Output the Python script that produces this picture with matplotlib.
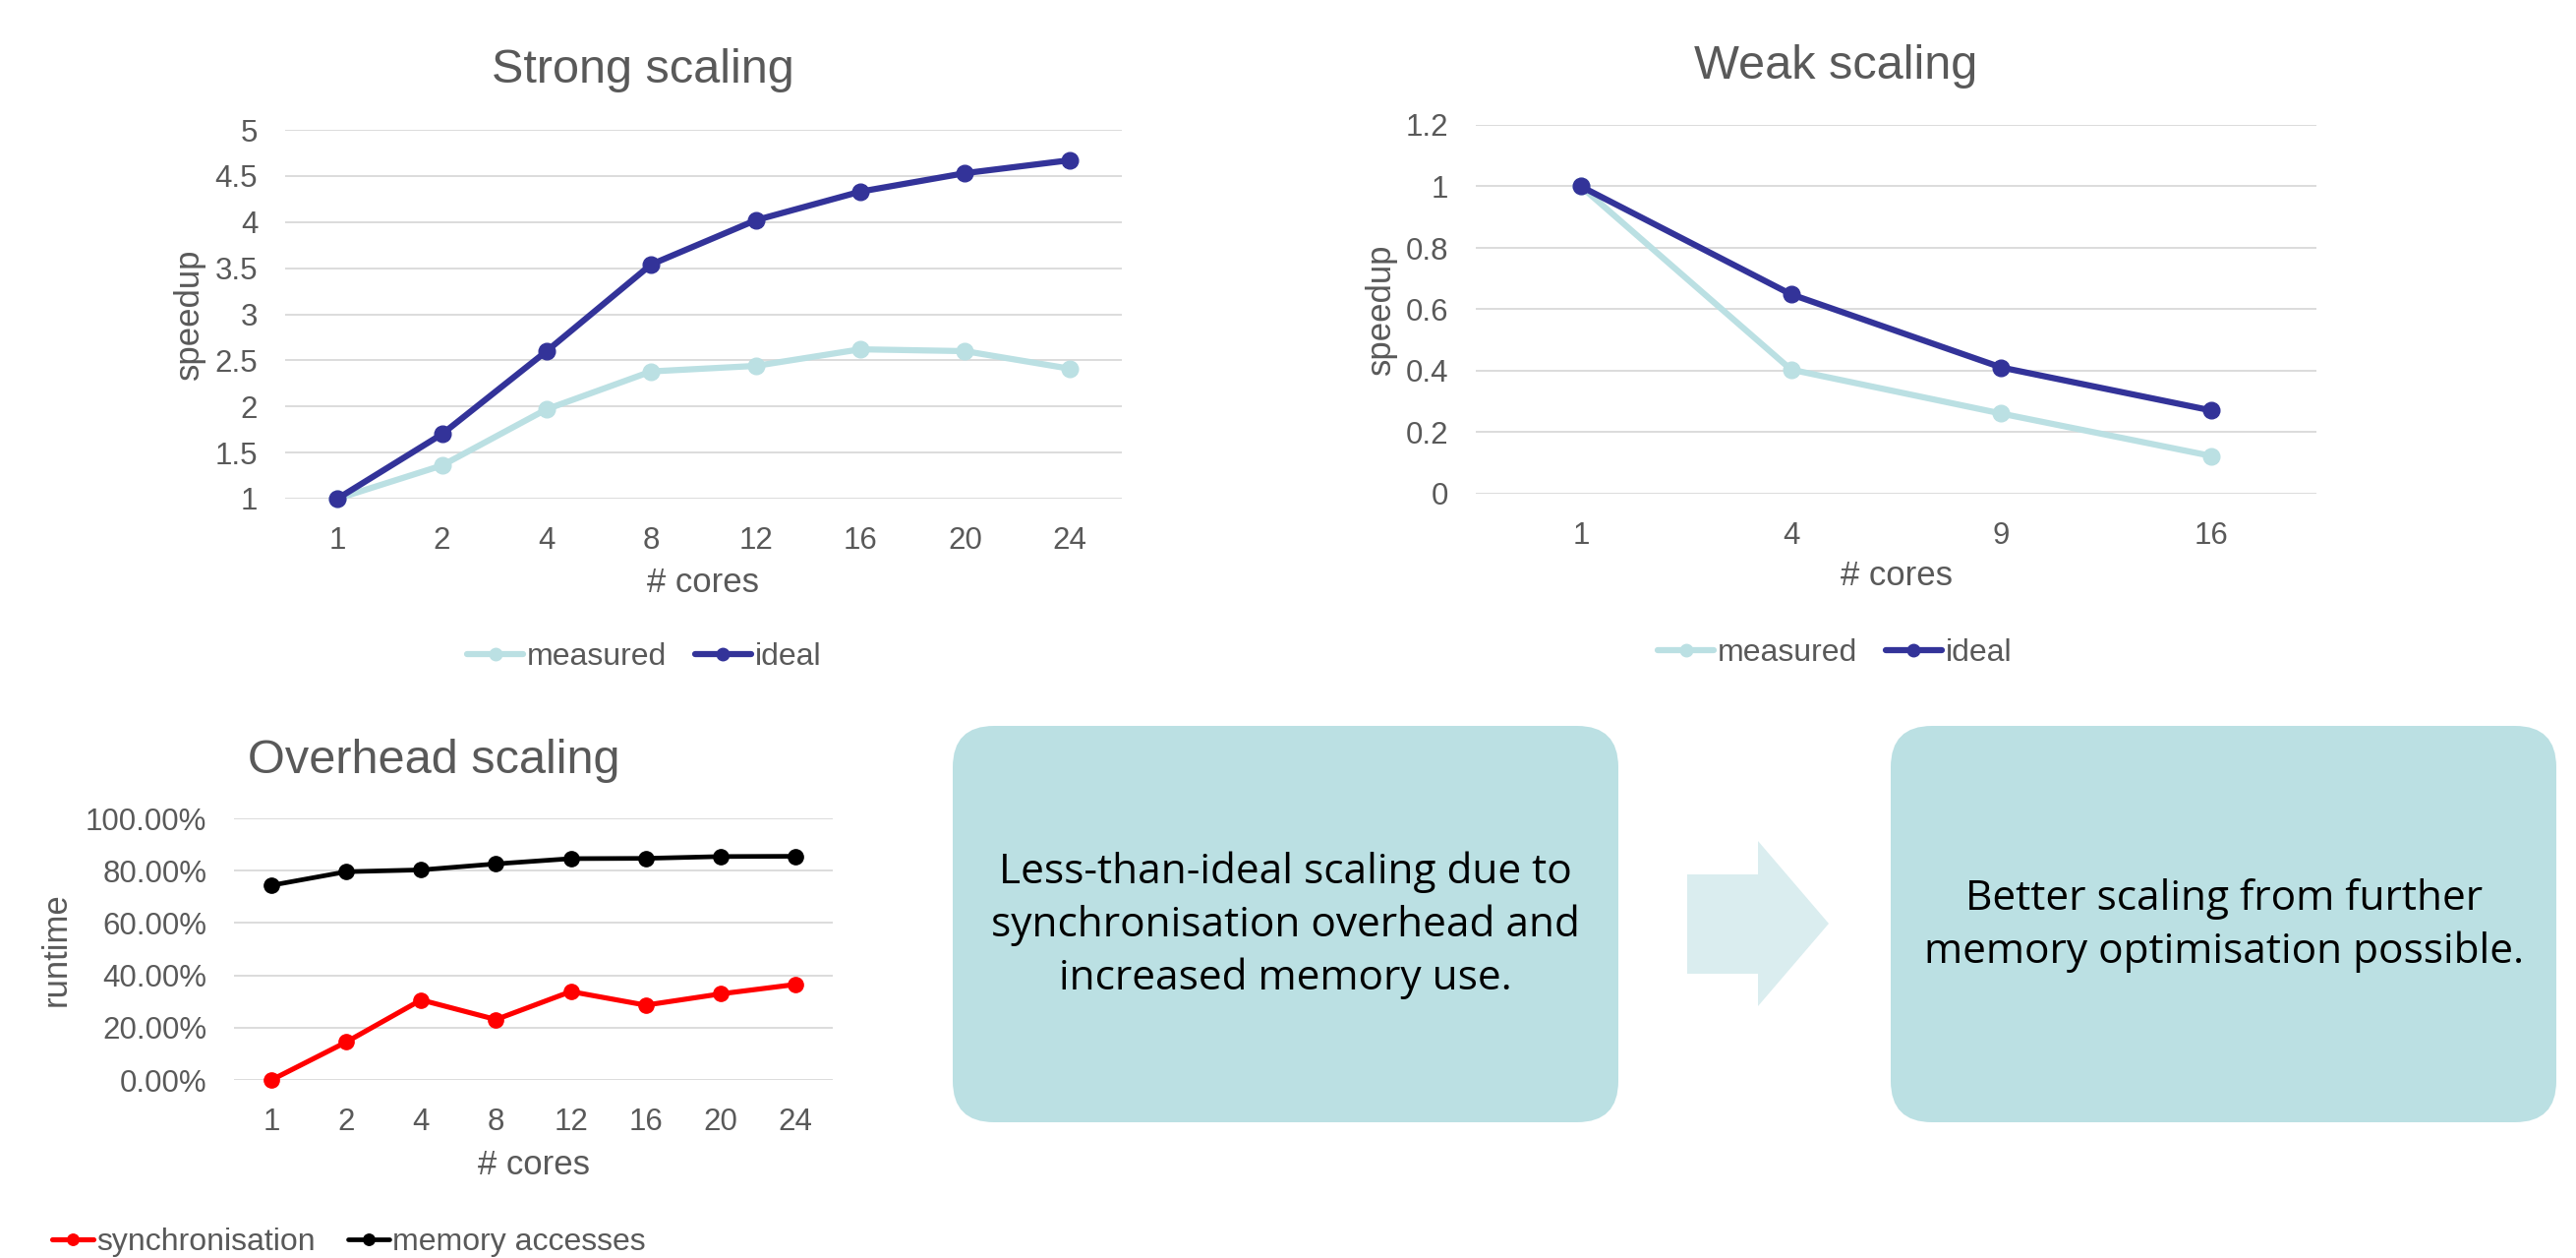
import matplotlib
matplotlib.use("Agg")
import matplotlib.pyplot as plt
from matplotlib.patches import FancyBboxPatch, Polygon

# ---- data ----
strong_cores = ["1", "2", "4", "8", "12", "16", "20", "24"]
strong_measured = [1.00, 1.36, 1.97, 2.38, 2.44, 2.62, 2.60, 2.41]
strong_ideal = [1.00, 1.70, 2.60, 3.54, 4.02, 4.33, 4.53, 4.67]

weak_cores = ["1", "4", "9", "16"]
weak_measured = [1.00, 0.404, 0.261, 0.123]
weak_ideal = [1.00, 0.649, 0.411, 0.271]

overhead_cores = ["1", "2", "4", "8", "12", "16", "20", "24"]
overhead_sync = [0.000, 0.145, 0.306, 0.231, 0.338, 0.286, 0.329, 0.365]
overhead_mem = [0.744, 0.796, 0.803, 0.826, 0.846, 0.847, 0.854, 0.855]

strong_yticks = [1, 1.5, 2, 2.5, 3, 3.5, 4, 4.5, 5]
strong_yticklabels = ["1", "1.5", "2", "2.5", "3", "3.5", "4", "4.5", "5"]
weak_yticks = [0, 0.2, 0.4, 0.6, 0.8, 1.0, 1.2]
weak_yticklabels = ["0", "0.2", "0.4", "0.6", "0.8", "1", "1.2"]
overhead_yticks = [0, 0.2, 0.4, 0.6, 0.8, 1.0]
overhead_yticklabels = ["0.00%", "20.00%", "40.00%", "60.00%", "80.00%", "100.00%"]

box_left_text = "Less-than-ideal scaling due to\nsynchronisation overhead and\nincreased memory use."
box_right_text = "Better scaling from further\nmemory optimisation possible."

# ---- style ----
W, H = 2620, 1279
DPI = 100
TEXT = "#595959"
GRID = "#D9D9D9"
LIGHT = "#BBE0E3"
DARK = "#333399"
ARROW = "#DAEDEF"
plt.rcParams["font.family"] = ["Liberation Sans", "DejaVu Sans"]

fig = plt.figure(figsize=(W / DPI, H / DPI), dpi=DPI)


def px_axes(x0, y0, x1, y1):
    """Axes from pixel box (origin top-left)."""
    return fig.add_axes([x0 / W, 1 - y1 / H, (x1 - x0) / W, (y1 - y0) / H])


def fxy(x, y):
    return x / W, 1 - y / H


def style_axes(ax, n, ticks, ticklabels, ylim, cats):
    ax.set_xlim(-0.5, n - 0.5)
    ax.set_ylim(*ylim)
    ax.set_yticks(ticks)
    ax.set_yticklabels(ticklabels)
    ax.set_xticks(range(n))
    ax.set_xticklabels(cats)
    for s in ax.spines.values():
        s.set_visible(False)
    ax.grid(axis="y", color=GRID, linewidth=1.3)
    ax.set_axisbelow(True)
    ax.tick_params(axis="both", length=0, labelsize=22.5, labelcolor=TEXT, pad=20)


def plot_series(ax, x, y, color, lw, ms, label, z):
    ax.plot(x, y, color=color, lw=lw, marker="o", ms=ms, label=label,
            clip_on=False, zorder=z, solid_capstyle="round")


def label_axes(ax, box, xlabel_y, ylabel_x, ylabel):
    x0, y0, x1, y1 = box
    ax.set_xlabel("# cores", fontsize=25, color=TEXT, va="center")
    ax.xaxis.set_label_coords(0.5, -(xlabel_y - y1) / (y1 - y0))
    ax.set_ylabel(ylabel, fontsize=25, color=TEXT, va="center")
    ax.yaxis.set_label_coords((ylabel_x - x0) / (x1 - x0), 0.5)


def add_legend(ax, cx, cy, handlelength, colspacing):
    leg = ax.legend(loc="center", bbox_to_anchor=fxy(cx, cy), bbox_transform=fig.transFigure,
                    ncol=2, frameon=False, fontsize=23, handlelength=handlelength,
                    handletextpad=0.1, columnspacing=colspacing, markerscale=0.75)
    for t in leg.get_texts():
        t.set_color(TEXT)
    return leg


# ---- Strong scaling ----
box1 = (290, 132, 1141, 507)
ax1 = px_axes(*box1)
style_axes(ax1, len(strong_cores), strong_yticks, strong_yticklabels, (1, 5), strong_cores)
xs = range(len(strong_cores))
plot_series(ax1, xs, strong_measured, LIGHT, 4.5, 12, "measured", 3)
plot_series(ax1, xs, strong_ideal, DARK, 4.5, 12, "ideal", 4)
label_axes(ax1, box1, 593, 192, "speedup")
fig.text(*fxy(654, 72), "Strong scaling", fontsize=35, color=TEXT, ha="center", va="center")
add_legend(ax1, 655, 668, 1.8, 0.9)

# ---- Weak scaling ----
box2 = (1501, 127, 2356, 502)
ax2 = px_axes(*box2)
style_axes(ax2, len(weak_cores), weak_yticks, weak_yticklabels, (0, 1.2), weak_cores)
xs = range(len(weak_cores))
plot_series(ax2, xs, weak_measured, LIGHT, 4.5, 12, "measured", 3)
plot_series(ax2, xs, weak_ideal, DARK, 4.5, 12, "ideal", 4)
label_axes(ax2, box2, 586, 1404, "speedup")
fig.text(*fxy(1867, 67), "Weak scaling", fontsize=35, color=TEXT, ha="center", va="center")
add_legend(ax2, 1866, 664, 1.8, 0.9)

# ---- Overhead scaling ----
box3 = (238, 832, 847, 1098)
ax3 = px_axes(*box3)
style_axes(ax3, len(overhead_cores), overhead_yticks, overhead_yticklabels, (0, 1), overhead_cores)
xs = range(len(overhead_cores))
plot_series(ax3, xs, overhead_sync, "#FF0000", 3.7, 11, "synchronisation", 3)
plot_series(ax3, xs, overhead_mem, "#000000", 3.4, 11, "memory accesses", 4)
label_axes(ax3, box3, 1184, 57, "runtime")
fig.text(*fxy(441, 774), "Overhead scaling", fontsize=35, color=TEXT, ha="center", va="center")
add_legend(ax3, 355, 1263, 1.3, 1.05)

# ---- summary boxes and arrow (pixel-space overlay) ----
ov = fig.add_axes([0, 0, 1, 1], zorder=-1)
ov.set_xlim(0, W)
ov.set_ylim(H, 0)
ov.axis("off")

r = 42
for (x0, x1) in [(969, 1646), (1923, 2600)]:
    ov.add_patch(FancyBboxPatch((x0 + r, 738 + r), (x1 - x0) - 2 * r, (1141 - 738) - 2 * r,
                                boxstyle=f"round,pad={r},rounding_size={r}",
                                facecolor=LIGHT, edgecolor="none"))

ov.add_patch(Polygon([(1716, 889), (1788, 889), (1788, 855), (1860, 939),
                      (1788, 1023), (1788, 990), (1716, 990)],
                     closed=True, facecolor=ARROW, edgecolor="none"))

ov.text(1307, 941, box_left_text, fontsize=30.5, family=["Open Sans", "DejaVu Sans"],
        color="#000000", ha="center", va="center", linespacing=1.35, multialignment="center")
ov.text(2262, 941, box_right_text, fontsize=30.5, family=["Open Sans", "DejaVu Sans"],
        color="#000000", ha="center", va="center", linespacing=1.35, multialignment="center")

fig.savefig("out.png", dpi=DPI, facecolor="white")
